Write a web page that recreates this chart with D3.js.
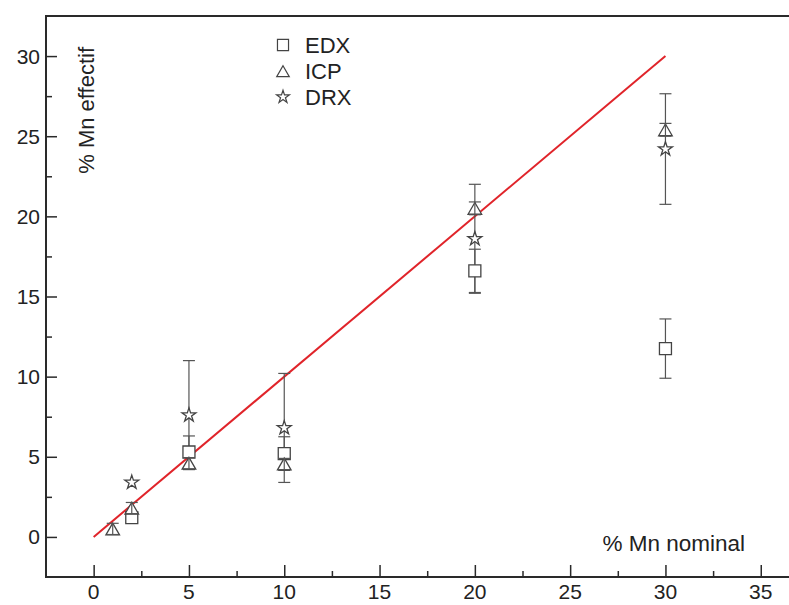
<!DOCTYPE html>
<html>
<head>
<meta charset="utf-8">
<script src="https://cdn.jsdelivr.net/npm/d3@7"></script>
<style>
  body { margin: 0; background: #fff; }
  .chart { width: 789px; height: 605px; }
  text { font-family: "Liberation Sans", Arial, sans-serif; fill: #222; }
</style>
</head>
<body>
<div class="chart"></div>
<script>
// data
const xTicks = [0, 5, 10, 15, 20, 25, 30, 35];
const yTicks = [0, 5, 10, 15, 20, 25, 30];

const edxX = [2, 5, 10, 20, 30];
const edxY = [1.2, 5.3, 5.2, 16.6, 11.75];
const edxErr = [0.3, 1.0, 1.05, 1.35, 1.85];

const icpX = [1, 2, 5, 10, 20, 30];
const icpY = [0.5, 1.8, 4.6, 4.55, 20.5, 25.4];
const icpErr = [0.35, 0.35, 0.35, 0.35, 0.4, 0.4];

const drxX = [2, 5, 10, 20, 30];
const drxY = [3.4, 7.6, 6.8, 18.6, 24.2];
const drxErr = [0, 3.4, 3.4, 3.4, 3.45];

const fitLine = [[0, 0], [30, 30]];

const width = d3.select('.chart').node().clientWidth;
const height = d3.select('.chart').node().clientHeight;

const svg = d3.select('.chart')
    .append('svg')
    .attr('width', width)
    .attr('height', height);

const plotLeft = 46, plotTop = 16, plotBottom = 577;

const x = d3.scaleLinear().domain([-2.5, 37.5]).range([plotLeft, plotLeft + 40 * 19.06]);
const y = d3.scaleLinear().domain([-2.5, 32.5]).range([plotBottom, plotTop]);

// frame (right side falls off the picture)
svg.append('path')
    .attr('d', `M${x(37.5)},${plotTop}H${plotLeft}V${plotBottom}H${x(37.5)}`)
    .attr('fill', 'none')
    .attr('stroke', '#2a2a2a')
    .attr('stroke-width', 2);

// axes with inward ticks
const xMinor = d3.range(-2.5, 37.6, 2.5).filter(v => !xTicks.includes(v) && v > -2.5);
const yMinor = d3.range(-2.5, 32.6, 2.5).filter(v => !yTicks.includes(v) && v > -2.5 && v < 32.5);

const xAxis = svg.append('g').attr('transform', `translate(0,${plotBottom})`);
xAxis.call(d3.axisTop(x).tickValues(xTicks).tickSize(12).tickFormat(''));
xAxis.append('g').call(d3.axisTop(x).tickValues(xMinor).tickSize(6).tickFormat(''));
xAxis.selectAll('.domain').remove();
xAxis.selectAll('line').attr('stroke', '#2a2a2a').attr('stroke-width', 1.5);

svg.append('g').selectAll('text')
    .data(xTicks)
    .join('text')
    .attr('x', d => x(d))
    .attr('y', 605 - 6)
    .attr('text-anchor', 'middle')
    .attr('font-size', 21)
    .text(d => d);

const yAxis = svg.append('g').attr('transform', `translate(${plotLeft},0)`);
yAxis.call(d3.axisRight(y).tickValues(yTicks).tickSize(11).tickFormat(''));
yAxis.append('g').call(d3.axisRight(y).tickValues(yMinor).tickSize(6).tickFormat(''));
yAxis.selectAll('.domain').remove();
yAxis.selectAll('line').attr('stroke', '#2a2a2a').attr('stroke-width', 1.5);

svg.append('g').selectAll('text')
    .data(yTicks)
    .join('text')
    .attr('x', 40)
    .attr('y', d => y(d) + 7.5)
    .attr('text-anchor', 'end')
    .attr('font-size', 21)
    .text(d => d);

// axis titles
svg.append('text')
    .attr('transform', 'translate(94,47) rotate(-90)')
    .attr('text-anchor', 'end')
    .attr('font-size', 22)
    .text('% Mn effectif');

svg.append('text')
    .attr('x', 745)
    .attr('y', 551)
    .attr('text-anchor', 'end')
    .attr('font-size', 22.5)
    .text('% Mn nominal');

// red y = x line
svg.append('line')
    .attr('x1', x(fitLine[0][0]))
    .attr('y1', y(fitLine[0][1]))
    .attr('x2', x(fitLine[1][0]))
    .attr('y2', y(fitLine[1][1]))
    .attr('stroke', '#e0242a')
    .attr('stroke-width', 2);

const series = [
    {name: 'EDX', xs: edxX, ys: edxY, err: edxErr, sym: d3.symbolSquare, size: 144},
    {name: 'ICP', xs: icpX, ys: icpY, err: icpErr, sym: d3.symbolTriangle, size: 80},
    {name: 'DRX', xs: drxX, ys: drxY, err: drxErr, sym: d3.symbolStar, size: 60}
];

const markColor = '#444';
const capW = 6;

function drawErrors(g, s) {
    s.xs.forEach((xv, i) => {
        const e = s.err[i];
        if (!e) return;
        const px = x(xv), lo = y(s.ys[i] - e), hi = y(s.ys[i] + e);
        g.append('line').attr('x1', px).attr('x2', px).attr('y1', lo).attr('y2', hi);
        g.append('line').attr('x1', px - capW).attr('x2', px + capW).attr('y1', lo).attr('y2', lo);
        g.append('line').attr('x1', px - capW).attr('x2', px + capW).attr('y1', hi).attr('y2', hi);
    });
}

const errG = svg.append('g').attr('stroke', '#555').attr('stroke-width', 1.2);
series.filter(s => s.name !== 'ICP').forEach(s => drawErrors(errG, s));

series.forEach(s => {
    svg.append('g').selectAll('path')
        .data(s.xs.map((xv, i) => [xv, s.ys[i]]))
        .join('path')
        .attr('transform', d => `translate(${x(d[0])},${y(d[1]) + (s.sym === d3.symbolTriangle ? 2 : 0)})`)
        .attr('d', d3.symbol().type(s.sym).size(s.size))
        .attr('fill', 'white')
        .attr('stroke', markColor)
        .attr('stroke-width', 1.3);
});

// ICP bars drawn on top, they show through the triangles
const icpG = svg.append('g').attr('stroke', '#555').attr('stroke-width', 1.2);
drawErrors(icpG, series[1]);

// legend
const legend = svg.append('g');
series.forEach((s, i) => {
    const ly = 45 + i * 26;
    legend.append('path')
        .attr('transform', `translate(283,${ly + (s.sym === d3.symbolTriangle ? 2 : 0)})`)
        .attr('d', d3.symbol().type(s.sym).size(s.size * 0.85))
        .attr('fill', 'white')
        .attr('stroke', markColor)
        .attr('stroke-width', 1.2);
    legend.append('text')
        .attr('x', 305)
        .attr('y', ly + 8)
        .attr('font-size', 22)
        .text(s.name);
});
</script>
</body>
</html>
